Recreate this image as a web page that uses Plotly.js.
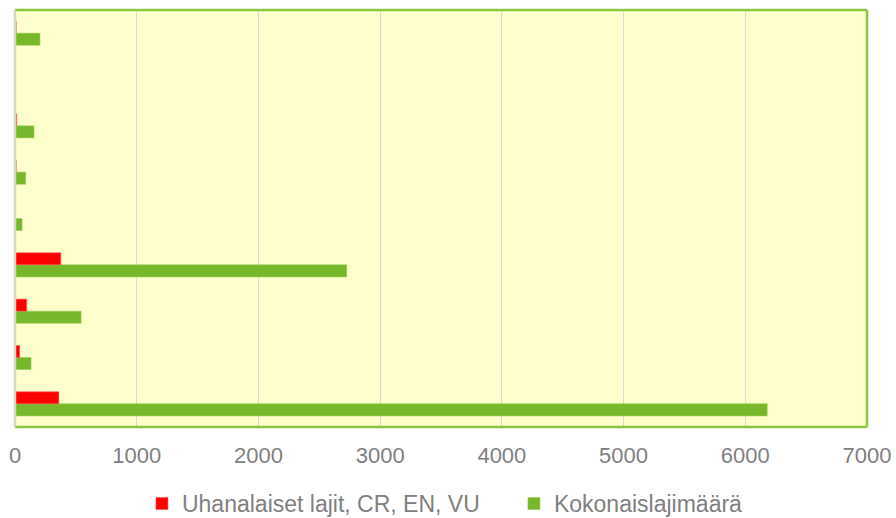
<!DOCTYPE html>
<html>
<head>
<meta charset="utf-8">
<script src="https://cdn.plot.ly/plotly-3.0.1.min.js"></script>
<style>html,body{margin:0;padding:0;background:#fff;}#chart{width:896px;height:518px;}</style>
</head>
<body>
<div id="chart"></div>
<script>
// Categories from bottom to top (labels are not shown in the original)
const categories = ["Luokka 1", "Luokka 2", "Luokka 3", "Luokka 4", "Luokka 5", "Luokka 6", "Luokka 7", "Luokka 8", "Luokka 9"];
const threatened = [360, 38, 96, 376, 2, 10, 14, 1, 10];      // Uhanalaiset lajit, CR, EN, VU
const totalSpecies = [6180, 132, 543, 2725, 58, 88, 156, 2, 205]; // Kokonaislajimäärä
const xTicks = [0, 1000, 2000, 3000, 4000, 5000, 6000, 7000];

const traces = [
  {
    type: "bar", orientation: "h", name: "Kokonaislajimäärä",
    y: categories, x: totalSpecies,
    marker: {color: "#77B82A", line: {color: "#9BCB5A", width: 0.6}}
  },
  {
    type: "bar", orientation: "h", name: "Uhanalaiset lajit, CR, EN, VU",
    y: categories, x: threatened,
    marker: {color: "#FF0000", line: {color: "#FF5050", width: 0.6}}
  }
];

const layout = {
  width: 896, height: 518,
  margin: {l: 15, r: 29, t: 10, b: 91, autoexpand: false},
  paper_bgcolor: "#FFFFFF",
  plot_bgcolor: "#FFFFCC",
  barmode: "group",
  bargap: 0.48,
  bargroupgap: 0,
  font: {family: "Liberation Sans, Arial, sans-serif", size: 22, color: "#808080"},
  xaxis: {
    range: [0, 7000], tickvals: xTicks, ticktext: xTicks.map(String),
    showgrid: true, gridcolor: "#D9D9D9", gridwidth: 1,
    zeroline: false, showline: false, ticks: "",
    ticklabelstandoff: 13, automargin: false,
    tickfont: {size: 22, color: "#808080"}, fixedrange: true
  },
  yaxis: {
    type: "category", showticklabels: false, ticks: "", showgrid: false,
    zeroline: false, showline: false, fixedrange: true, automargin: false
  },
  shapes: [
    {type: "line", xref: "paper", yref: "paper", x0: 0, x1: 1, y0: 1, y1: 1, line: {color: "#8CC63F", width: 2.5}, layer: "above"},
    {type: "line", xref: "paper", yref: "paper", x0: 1, x1: 1, y0: 0, y1: 1, line: {color: "#8CC63F", width: 2.5}, layer: "above"},
    {type: "line", xref: "paper", yref: "paper", x0: 0, x1: 1, y0: 0, y1: 0, line: {color: "#8CC63F", width: 2.5}, layer: "above"},
    {type: "line", xref: "paper", yref: "paper", x0: 0, x1: 0, y0: 0, y1: 1, line: {color: "#D0DCC0", width: 2.5}, layer: "above"}
  ],
  legend: {
    orientation: "h", traceorder: "reversed",
    x: 0.149, xanchor: "left", y: -0.132, yanchor: "top",
    font: {size: 23, color: "#808080"},
    itemwidth: 30, entrywidth: 327, entrywidthmode: "pixels",
    bgcolor: "rgba(0,0,0,0)"
  },
  showlegend: true
};

Plotly.newPlot("chart", traces, layout, {displayModeBar: false, staticPlot: true});
</script>
</body>
</html>
